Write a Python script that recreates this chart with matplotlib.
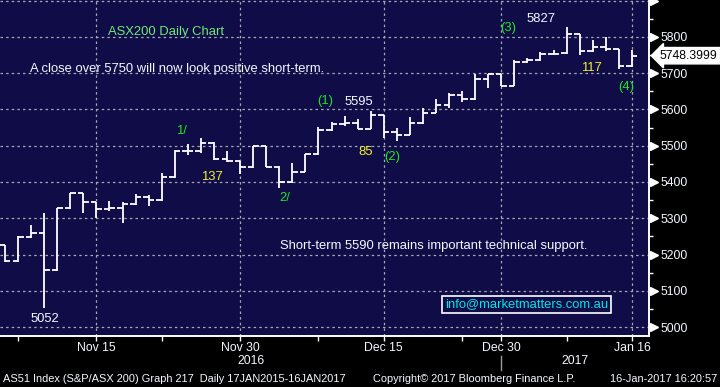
import numpy as np
import matplotlib
matplotlib.use('Agg')
import matplotlib.pyplot as plt
from matplotlib import font_manager as fm
import matplotlib.transforms as mtrans

# ---------------- data ----------------
dates = ['04 Nov', '07 Nov', '08 Nov', '09 Nov', '10 Nov', '11 Nov', '14 Nov', '15 Nov', '16 Nov',
         '17 Nov', '18 Nov', '21 Nov', '22 Nov', '23 Nov', '24 Nov', '25 Nov', '28 Nov', '29 Nov',
         '30 Nov', '01 Dec', '02 Dec', '05 Dec', '06 Dec', '07 Dec', '08 Dec', '09 Dec', '12 Dec',
         '13 Dec', '14 Dec', '15 Dec', '16 Dec', '19 Dec', '20 Dec', '21 Dec', '22 Dec', '23 Dec',
         '28 Dec', '29 Dec', '30 Dec', '03 Jan', '04 Jan', '05 Jan', '06 Jan', '09 Jan', '10 Jan',
         '11 Jan', '12 Jan', '13 Jan', '16 Jan']
opens = [5225, 5181, 5249, 5259, 5156, 5327, 5369, 5345, 5325, 5328, 5338, 5358, 5349, 5413, 5485,
         5486, 5508, 5463, 5457, 5440, 5498, 5442, 5399, 5428, 5476, 5543, 5559, 5563, 5546, 5584,
         5538, 5531, 5563, 5590, 5612, 5641, 5628, 5683, 5697, 5666, 5732, 5736, 5753, 5755, 5807,
         5760, 5771, 5766, 5719]
highs = [5226, 5250, 5281, 5314, 5328, 5370, 5370, 5346, 5348, 5345, 5367, 5364, 5425, 5487, 5505,
         5522, 5509, 5486, 5458, 5499, 5499, 5443, 5452, 5477, 5552, 5566, 5582, 5574, 5595, 5585,
         5549, 5578, 5605, 5628, 5645, 5650, 5697, 5698, 5698, 5736, 5743, 5759, 5764, 5827, 5808,
         5791, 5799, 5767, 5764]
lows = [5180, 5180, 5245, 5052, 5155, 5326, 5315, 5302, 5321, 5288, 5337, 5334, 5348, 5412, 5474,
        5481, 5462, 5455, 5423, 5439, 5441, 5384, 5398, 5427, 5475, 5542, 5554, 5545, 5545, 5520,
        5512, 5530, 5560, 5589, 5605, 5620, 5627, 5660, 5664, 5665, 5729, 5735, 5749, 5754, 5749,
        5759, 5760, 5711, 5718]
closes = [5181, 5249, 5259, 5156, 5327, 5369, 5345, 5325, 5328, 5338, 5358, 5349, 5413, 5485, 5486,
          5508, 5463, 5457, 5440, 5498, 5442, 5399, 5428, 5476, 5543, 5559, 5563, 5546, 5584, 5538,
          5531, 5563, 5590, 5612, 5641, 5628, 5683, 5697, 5665, 5732, 5736, 5753, 5754, 5807, 5760,
          5771, 5766, 5719, 5748.3999]
last_price = 5748.3999

major_tick_idx = [7, 18, 29, 38, 48]
major_tick_labels = ['Nov 15', 'Nov 30', 'Dec 15', 'Dec 30', 'Jan 16']
minor_tick_idx = [1, 12, 24, 35, 43]
year_split_idx = 38
year_labels = ['2016', '2017']
y_ticks = [5000, 5100, 5200, 5300, 5400, 5500, 5600, 5700, 5800, 5900]
y_minor = [5050, 5150, 5250, 5350, 5450, 5550, 5650, 5750, 5850]

# ---------------- fonts ----------------
names = {f.name for f in fm.fontManager.ttflist}
if 'Liberation Sans Narrow' in names:
    NARROW = ['Liberation Sans Narrow', 'DejaVu Sans']
    nscale = 1.0
else:
    NARROW = ['Liberation Sans', 'DejaVu Sans']
    nscale = 0.84
SANS = ['Liberation Sans', 'DejaVu Sans']
plt.rcParams['font.family'] = SANS

NAVY = '#0f0c47'
GREEN = '#1ee61e'
LGREEN = '#74e874'
YELLOW = '#f2f22c'
WHITE = '#f4f8ff'
CYAN = '#00e6e6'

fig = plt.figure(figsize=(7.2, 3.87), dpi=100, facecolor='black')
AX_W, AX_H = 649, 336
ax = fig.add_axes([0, (387 - AX_H) / 387, AX_W / 720, AX_H / 387])
ax.set_facecolor(NAVY)

x = np.arange(len(opens))
tk = 0.42
ax.vlines(x, lows, highs, color='white', lw=1.3, zorder=3)
ax.hlines(opens, x - tk, x, color='white', lw=1.3, zorder=3)
ax.hlines(closes, x, x + tk, color='white', lw=1.3, zorder=3)

x0, x1 = -0.383, 49.31
ax.set_xlim(x0, x1)
ax.set_ylim(4975.2, 5902)

# grid
ax.set_yticks(y_ticks)
ax.set_yticklabels([str(v) for v in y_ticks[:-1]] + [''])
ax.set_yticks(y_minor, minor=True)
ax.set_xticks(major_tick_idx)
ax.set_xticklabels(major_tick_labels)
ax.set_xticks(minor_tick_idx, minor=True)
ax.grid(True, which='major', ls=(0, (2, 2.5)), color='#a8a8b4', lw=0.9, zorder=1)

for s in ['left', 'top']:
    ax.spines[s].set_visible(False)
for s in ['right', 'bottom']:
    ax.spines[s].set_color('white')
    ax.spines[s].set_linewidth(1.4)

ax.yaxis.tick_right()
ax.tick_params(axis='y', which='major', direction='out', length=5, width=1, colors='white',
               labelcolor=WHITE, pad=3, labelsize=10.5 * nscale)
ax.tick_params(axis='y', which='minor', direction='out', length=3, width=1, colors='white')
ax.tick_params(axis='x', which='both', direction='out', length=3.5, width=1, colors='white',
               labelcolor=WHITE, pad=1, labelsize=10.5 * nscale)
for lab in ax.get_yticklabels() + ax.get_xticklabels():
    lab.set_family(NARROW)

# triangle tick markers on the right axis
tri_tr = ax.get_yaxis_transform() + mtrans.ScaledTranslation(5 / 100, 0, fig.dpi_scale_trans)
ax.plot(np.ones(len(y_ticks)), y_ticks, ls='none', marker='>', ms=5.5, color='white',
        transform=tri_tr, clip_on=False, zorder=5)

# last price flag
lp_tr = ax.get_yaxis_transform() + mtrans.ScaledTranslation(11 / 100, 0, fig.dpi_scale_trans)
ax.text(1.0, last_price, f'{last_price:.4f}', transform=lp_tr, ha='left', va='center',
        fontsize=10.5 * nscale, family=NARROW, color='black', clip_on=False, zorder=6,
        bbox=dict(boxstyle='larrow,pad=0.18', fc='white', ec='white'))

# year labels and separator
yr_y = 1 - 361 / 387
btr = mtrans.blended_transform_factory(ax.transData, fig.transFigure)
ax.text((x0 + year_split_idx) / 2, yr_y, year_labels[0], transform=btr, ha='center', va='center',
        color=WHITE, fontsize=10.5 * nscale, family=NARROW)
ax.text((year_split_idx + x1) / 2, yr_y, year_labels[1], transform=btr, ha='center', va='center',
        color=WHITE, fontsize=10.5 * nscale, family=NARROW)
ax.plot([year_split_idx, year_split_idx], [1 - 356 / 387, 1 - 370 / 387], transform=btr,
        color='#9a9a9a', lw=1, clip_on=False)


def pxa(px, py):
    return (px / AX_W, 1 - py / AX_H)


def note(txt, px, py, color, size=9.35, **kw):
    ax.text(*pxa(px, py), txt, transform=ax.transAxes, ha='center', va='center', color=color,
            fontsize=size, zorder=6, **kw)


note('ASX200 Daily Chart', 165.5, 32, LGREEN)
note('A close over 5750 will now look positive short-term.', 177, 69, WHITE)
note('5052', 45, 319, WHITE)
note('1/', 181, 131, GREEN)
note('137', 212, 177, YELLOW)
note('2/', 284.5, 198, GREEN)
note('(1)', 325.5, 101, GREEN)
note('5595', 359, 102, WHITE)
note('85', 365.5, 152, YELLOW)
note('(2)', 392, 157, GREEN)
note('(3)', 508.5, 28, GREEN)
note('5827', 541, 19, WHITE)
note('117', 591, 68, YELLOW)
note('(4)', 626.5, 87, GREEN)
note('Short-term 5590 remains important technical support.', 433.5, 246, WHITE)
note('info@marketmatters.com.au', 526.5, 304.5, CYAN,
     bbox=dict(boxstyle='square,pad=0.22', fc=NAVY, ec='white', lw=1.2))

# footer
fy = 1 - 379 / 387
fs = 9.4 * nscale
fig.text(3 / 720, fy, 'AS51 Index (S&P/ASX 200) Graph 217  Daily 17JAN2015-16JAN2017', ha='left',
         va='center', color=WHITE, fontsize=fs, family=NARROW)
fig.text(373 / 720, fy, 'Copyright\u00a9 2017 Bloomberg Finance L.P.', ha='left', va='center',
         color=WHITE, fontsize=fs, family=NARROW)
fig.text(717 / 720, fy, '16-Jan-2017 16:20:57', ha='right', va='center', color=WHITE,
         fontsize=fs, family=NARROW)

fig.savefig('out.png', dpi=100, facecolor='black')
